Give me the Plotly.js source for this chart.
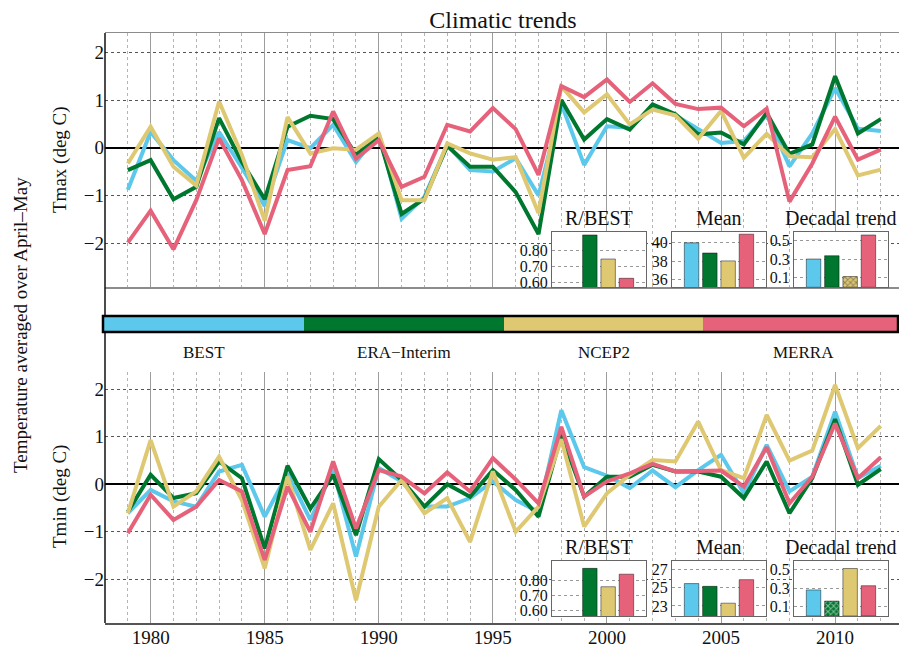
<!DOCTYPE html>
<html>
<head>
<meta charset="utf-8">
<script src="https://cdn.plot.ly/plotly-3.0.1.min.js"></script>
<style>html,body{margin:0;padding:0;background:#fff}#chart{width:899px;height:649px}</style>
</head>
<body>
<div id="chart"></div>
<script>
// ---------------- data ----------------
const years = [1979,1980,1981,1982,1983,1984,1985,1986,1987,1988,1989,1990,1991,1992,1993,1994,1995,1996,1997,1998,1999,2000,2001,2002,2003,2004,2005,2006,2007,2008,2009,2010,2011,2012];
const datasets = ['BEST', 'ERA\u2212Interim', 'NCEP2', 'MERRA'];

// Tmax anomalies (deg C)
const tmaxBEST  = [-0.88,0.33,-0.26,-0.69,0.33,-0.42,-1.22,0.16,-0.01,0.48,-0.30,0.30,-1.49,-1.03,0.06,-0.47,-0.50,-0.22,-1.00,0.92,-0.36,0.45,0.42,0.84,0.68,0.39,0.10,0.14,0.69,-0.39,0.30,1.25,0.40,0.35];
const tmaxERA   = [-0.47,-0.26,-1.08,-0.82,0.62,-0.30,-1.08,0.44,0.67,0.60,-0.15,0.23,-1.39,-1.07,0.04,-0.40,-0.40,-0.93,-1.81,1.00,0.17,0.60,0.38,0.91,0.70,0.28,0.32,0.07,0.73,-0.13,0.07,1.50,0.30,0.60];
const tmaxNCEP  = [-0.33,0.44,-0.40,-0.79,0.97,-0.15,-1.53,0.64,-0.12,-0.01,-0.04,0.30,-1.10,-1.10,0.09,-0.12,-0.25,-0.20,-1.37,1.29,0.74,1.12,0.49,0.80,0.68,0.19,0.77,-0.21,0.29,-0.18,-0.20,0.39,-0.58,-0.46];
const tmaxMERRA = [-1.99,-1.32,-2.13,-1.10,0.20,-0.68,-1.81,-0.47,-0.39,0.76,-0.23,0.16,-0.82,-0.61,0.48,0.34,0.83,0.39,-0.57,1.29,1.06,1.43,0.96,1.35,0.92,0.81,0.84,0.45,0.82,-1.13,-0.33,0.65,-0.25,-0.04];

// Tmin anomalies (deg C)
const tminBEST  = [-0.61,-0.12,-0.36,-0.47,0.27,0.41,-0.68,0.23,-0.75,0.30,-1.52,0.34,0.06,-0.47,-0.47,-0.29,0.06,-0.33,-0.58,1.56,0.36,0.18,-0.08,0.29,-0.06,0.30,0.62,-0.19,0.83,-0.15,0.16,1.53,0.13,0.39];
const tminERA   = [-0.58,0.20,-0.29,-0.19,0.48,0.13,-1.35,0.39,-0.51,0.20,-1.07,0.53,0.09,-0.47,0.00,-0.26,0.30,-0.12,-0.68,1.04,-0.26,0.16,0.16,0.41,0.27,0.27,0.16,-0.29,0.48,-0.61,0.13,1.37,-0.01,0.32];
const tminNCEP  = [-0.61,0.93,-0.47,-0.15,0.58,-0.33,-1.77,0.16,-1.38,-0.40,-2.44,-0.47,0.09,-0.61,-0.29,-1.21,0.27,-1.00,-0.47,0.95,-0.89,-0.19,0.20,0.51,0.48,1.32,0.30,0.13,1.46,0.50,0.71,2.09,0.76,1.23];
const tminMERRA = [-1.03,-0.22,-0.75,-0.47,0.09,-0.15,-1.59,-0.05,-1.00,0.48,-0.93,0.30,0.16,-0.19,0.25,-0.15,0.55,0.10,-0.40,1.21,-0.26,0.06,0.23,0.43,0.27,0.29,0.29,-0.05,0.78,-0.40,0.16,1.28,0.13,0.57];

// inset statistics (order: BEST, ERA-Interim, NCEP2, MERRA)
const insetTitles = ['R/BEST', 'Mean', 'Decadal trend'];
const rMax     = [null, 0.892, 0.745, 0.627];
const meanMax  = [40.0, 38.9, 38.05, 40.93];
const trendMax = [0.30, 0.335, 0.114, 0.555];
const sigTrendMax = [true, true, false, true];
const rMin     = [null, 0.876, 0.756, 0.838];
const meanMin  = [25.44, 25.14, 23.3, 25.87];
const trendMin = [0.28, 0.16, 0.51, 0.325];
const sigTrendMin = [true, false, true, true];

// ---------------- styling / layout ----------------
const colors = ['#5CC8EC', '#00772F', '#DFC872', '#E6627A'];
const FONT = 'Liberation Serif, Times New Roman, DejaVu Serif, serif';
const W = 899, H = 649;
const L = 105, R = 899, T = 33, B = 623;
const px = v => (v - L) / (R - L);
const py = v => (B - v) / (B - T);

const tmax = [tmaxBEST, tmaxERA, tmaxNCEP, tmaxMERRA];
const tmin = [tminBEST, tminERA, tminNCEP, tminMERRA];

const traces = [];
datasets.forEach((name, i) => {
  traces.push({x: years, y: tmax[i], xaxis: 'x', yaxis: 'y', type: 'scatter', mode: 'lines',
    name: name, showlegend: false, line: {color: colors[i], width: 4}});
});
datasets.forEach((name, i) => {
  traces.push({x: years, y: tmin[i], xaxis: 'x2', yaxis: 'y2', type: 'scatter', mode: 'lines',
    name: name, showlegend: false, line: {color: colors[i], width: 4}});
});

const slots = [1, 2, 3, 4];
const insetData = [
  {vals: rMax,     sig: [true,true,true,true], range: [0.572, 0.912], ticks: [0.6,0.7,0.8], fmt: '.2f'},
  {vals: meanMax,  sig: [true,true,true,true], range: [35.2, 41.2],   ticks: [36,38,40],    fmt: ''},
  {vals: trendMax, sig: sigTrendMax,           range: [0, 0.59],      ticks: [0.1,0.3,0.5], fmt: '.1f'},
  {vals: rMin,     sig: [true,true,true,true], range: [0.565, 0.926], ticks: [0.6,0.7,0.8], fmt: '.2f'},
  {vals: meanMin,  sig: [true,true,true,true], range: [21.9, 27.94],  ticks: [23,25,27],    fmt: ''},
  {vals: trendMin, sig: sigTrendMin,           range: [0, 0.594],     ticks: [0.1,0.3,0.5], fmt: '.1f'}
];
const insetBoxX = [[552, 646], [672, 766], [794, 888]];
const insetBoxY = [[231.7, 287.3], [560.7, 616]];

const layout = {
  width: W, height: H,
  margin: {l: L, r: W - R, t: T, b: H - B, pad: 0},
  paper_bgcolor: '#fff', plot_bgcolor: '#fff',
  font: {family: FONT, size: 19, color: '#111'},
  showlegend: false,
  title: {text: 'Climatic trends', font: {family: FONT, size: 24, color: '#111'},
          x: px(503), xref: 'paper', xanchor: 'center', y: 1 - 20 / H, yanchor: 'middle', yref: 'container'},
  shapes: [], annotations: []
};

const mainX = (anchor, labels, lineOpts) => Object.assign({
  domain: [0, 1], range: [1978, 2012.8], anchor: anchor,
  tick0: 1980, dtick: 5, ticks: '', showticklabels: labels, ticklabelstandoff: -4,
  tickfont: {family: FONT, size: 19, color: '#111'},
  showgrid: true, gridcolor: '#9c9c9c', gridwidth: 1,
  minor: {tick0: 1979, dtick: 1, showgrid: true, gridcolor: '#b4b4b4', griddash: 'dot', gridwidth: 1, ticks: ''},
  zeroline: false
}, lineOpts);
const mainY = (anchor, dom, rng) => ({
  domain: dom, range: rng, anchor: anchor, tick0: 0, dtick: 1, ticks: '',
  tickfont: {family: FONT, size: 19, color: '#111'},
  showgrid: true, gridcolor: '#555', griddash: 'dot', gridwidth: 1,
  zeroline: true, zerolinecolor: '#000', zerolinewidth: 2, showline: false
});

layout.xaxis  = mainX('y', false, {showline: true, linecolor: '#8c8c8c', linewidth: 1.5, mirror: true});
layout.yaxis  = mainY('x', [py(287), 1], [-2.92, 2.405]);
layout.xaxis2 = mainX('y2', true, {showline: true, linecolor: '#555', linewidth: 2, mirror: false});
layout.yaxis2 = mainY('x2', [0, py(372)], [-2.92, 2.364]);

insetData.forEach((d, k) => {
  const n = k + 3;
  const col = k % 3, row = Math.floor(k / 3);
  const xb = insetBoxX[col], yb = insetBoxY[row];
  layout['xaxis' + n] = {domain: [px(xb[0]), px(xb[1])], range: [-0.07, 5.07], anchor: 'y' + n,
    showticklabels: false, ticks: '', showgrid: false, zeroline: false,
    showline: true, mirror: true, linecolor: '#666', linewidth: 1};
  layout['yaxis' + n] = {domain: [py(yb[1]), py(yb[0])], range: d.range, anchor: 'x' + n,
    tickvals: d.ticks, tickformat: d.fmt, ticks: '',
    tickfont: {family: FONT, size: 16, color: '#111'},
    showgrid: true, gridcolor: '#999', griddash: 'dot', gridwidth: 1, zeroline: false,
    showline: true, mirror: true, linecolor: '#666', linewidth: 1};
  traces.push({type: 'bar', x: slots, y: d.vals, xaxis: 'x' + n, yaxis: 'y' + n, width: 0.79,
    showlegend: false, hoverinfo: 'skip',
    marker: {color: colors, line: {color: 'rgba(0,0,0,0.45)', width: 1},
      pattern: {shape: d.sig.map(s => s ? '' : 'x'), fgcolor: '#111', size: 4, solidity: 0.45, fillmode: 'overlay'}}});
  layout.annotations.push({text: insetTitles[col], xref: 'paper', yref: 'paper',
    x: px((xb[0] + xb[1]) / 2), y: py(yb[0] - 1), xanchor: 'center', yanchor: 'bottom', showarrow: false,
    font: {family: FONT, size: 20, color: '#111'}});
});

// continuous left axis line
layout.shapes.push({type: 'line', xref: 'paper', yref: 'paper', x0: 0, x1: 0, y0: 0, y1: 1,
  line: {color: '#111', width: 1.5}});

// colour legend bar
const legX = [[103, 304], [304, 504], [504, 703], [703, 903]];
datasets.forEach((name, i) => {
  layout.shapes.push({type: 'rect', xref: 'paper', yref: 'paper',
    x0: px(legX[i][0]), x1: px(legX[i][1]), y0: py(332), y1: py(316),
    fillcolor: colors[i], line: {width: 0}});
  layout.annotations.push({text: name, xref: 'paper', yref: 'paper',
    x: px((legX[i][0] + legX[i][1]) / 2), y: py(352), xanchor: 'center', yanchor: 'middle',
    showarrow: false, font: {family: FONT, size: 17, color: '#111'}});
});
layout.shapes.push({type: 'rect', xref: 'paper', yref: 'paper',
  x0: px(103), x1: px(898), y0: py(332), y1: py(316), line: {color: '#000', width: 2.5}});

// axis titles
layout.annotations.push({text: 'Tmax (deg C)', xref: 'paper', yref: 'paper', x: px(60), y: py(160),
  xanchor: 'center', yanchor: 'middle', textangle: -90, showarrow: false, font: {family: FONT, size: 19, color: '#111'}});
layout.annotations.push({text: 'Tmin (deg C)', xref: 'paper', yref: 'paper', x: px(60), y: py(497),
  xanchor: 'center', yanchor: 'middle', textangle: -90, showarrow: false, font: {family: FONT, size: 19, color: '#111'}});
layout.annotations.push({text: 'Temperature averaged over April\u2013May', xref: 'paper', yref: 'paper', x: px(20), y: py(325),
  xanchor: 'center', yanchor: 'middle', textangle: -90, showarrow: false, font: {family: FONT, size: 19, color: '#111'}});

Plotly.newPlot('chart', traces, layout, {staticPlot: true, displayModeBar: false});
</script>
</body>
</html>
